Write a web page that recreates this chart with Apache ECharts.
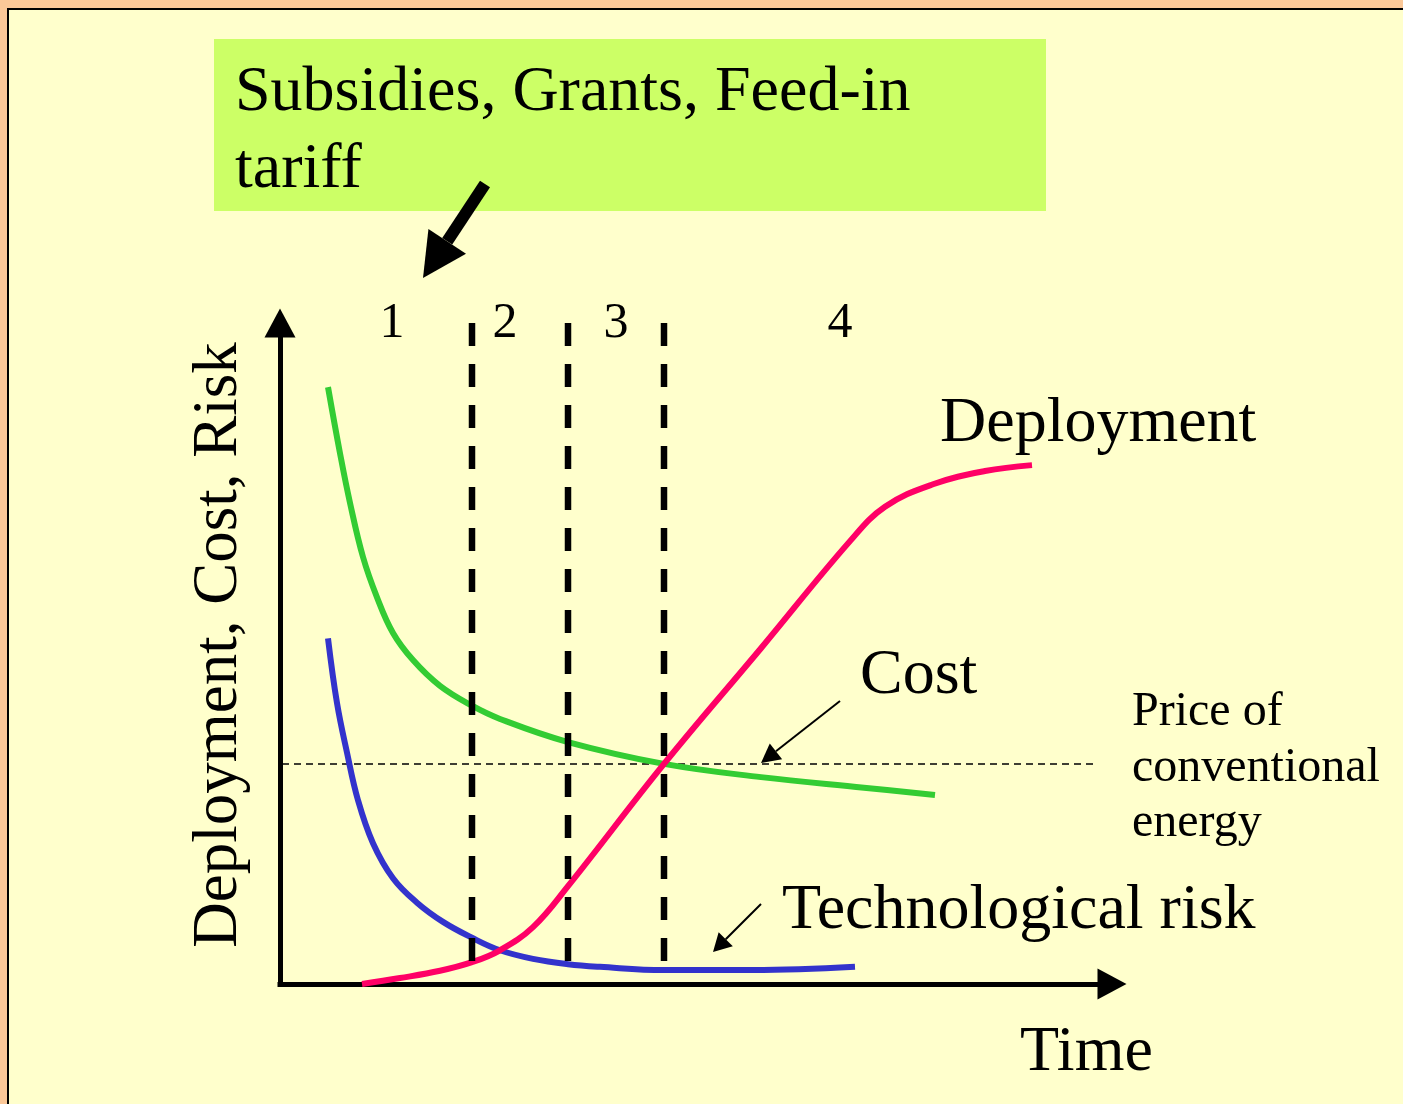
<!DOCTYPE html>
<html>
<head>
<meta charset="utf-8">
<title>Deployment, Cost, Risk</title>
<script src="https://cdn.jsdelivr.net/npm/echarts@6/dist/echarts.min.js"></script>
<style>
html, body { margin: 0; padding: 0; background: #FFFFCC; }
#main { width: 1403px; height: 1104px; }
</style>
</head>
<body>
<div id="main"></div>
<script>
"use strict";

// 数据：时间轴 0..104，纵轴 0..100（示意量）
var costTime = [6, 7.5, 8.75, 10.375, 12.125, 14.125, 16.625, 20, 24, 27.5, 36, 48, 60.125, 73, 81.875];
var costLevel = [90.3, 80.3, 72.8, 64.6, 58.5, 53.1, 49.0, 45.1, 42.1, 40.1, 36.6, 33.3, 31.3, 29.7, 28.6];

var riskTime = [6, 7.125, 8.375, 9.75, 11.625, 14.125, 17.125, 20.375, 24, 27.5, 31.625, 36, 40, 48, 59.125, 71.875];
var riskLevel = [52.3, 42.5, 35.0, 27.8, 21.3, 16.0, 12.3, 9.4, 7.0, 5.1, 3.8, 3.0, 2.6, 2.1, 2.1, 2.6];

var deployTime = [10.25, 15, 20, 24, 27.5, 31.625, 36, 48, 60.125, 71.25, 75.625, 81.625, 88.125, 94];
var deployLevel = [0, 0.9, 2.0, 3.3, 5.1, 8.6, 14.8, 33.3, 50.8, 67.0, 72.2, 75.6, 77.6, 78.5];

// 阶段分界线（时间）和上下端
var phaseBounds = [24, 36, 48];
var phaseTop = 100;
var phaseBottom = 2.7;
var phaseLabels = ['1', '2', '3', '4'];

// 常规能源价格线
var conventionalPrice = 33.3;
var priceFrom = 0.25;
var priceTo = 102.1;

var FONT = '"Liberation Serif", "Times New Roman", serif';

function zip(xs, ys) {
    return xs.map(function (x, i) { return [x, ys[i]]; });
}

//箭头：返回三角形的三个顶点
function arrowHead(x1, y1, x2, y2, len, wid) {
    var dx = x2 - x1, dy = y2 - y1;
    var d = Math.sqrt(dx * dx + dy * dy);
    var ux = dx / d, uy = dy / d;
    var bx = x2 - ux * len, by = y2 - uy * len;
    return {
        base: [bx, by],
        points: [[x2, y2], [bx - uy * wid / 2, by + ux * wid / 2], [bx + uy * wid / 2, by - ux * wid / 2]]
    };
}

function arrow(x1, y1, x2, y2, len, wid, lw) {
    var h = arrowHead(x1, y1, x2, y2, len, wid);
    return [
        { type: 'line', silent: true, z: 20,
          shape: { x1: x1, y1: y1, x2: h.base[0], y2: h.base[1] },
          style: { stroke: '#000', lineWidth: lw } },
        { type: 'polygon', silent: true, z: 20,
          shape: { points: h.points },
          style: { fill: '#000' } }
    ];
}

function label(text, x, baseline, size, align) {
    return {
        type: 'text', silent: true, z: 30,
        style: {
            text: text, x: x, y: baseline - size * 0.26,
            font: size + 'px ' + FONT, fill: '#000',
            align: align || 'left', verticalAlign: 'middle'
        }
    };
}

var series = [];

series.push({
    type: 'line', name: 'price', data: [[priceFrom, conventionalPrice], [priceTo, conventionalPrice]],
    symbol: 'none', silent: true, z: 2,
    lineStyle: { color: '#000', width: 1.5, type: [7, 5] }
});

series.push({
    type: 'line', name: 'Cost', data: zip(costTime, costLevel),
    symbol: 'none', smooth: 0.4, silent: true, z: 3,
    lineStyle: { color: '#33CC33', width: 6 }
});

series.push({
    type: 'line', name: 'Technological risk', data: zip(riskTime, riskLevel),
    symbol: 'none', smooth: 0.4, silent: true, z: 3,
    lineStyle: { color: '#3333CC', width: 6 }
});

series.push({
    type: 'line', name: 'Deployment', data: zip(deployTime, deployLevel),
    symbol: 'none', smooth: 0.4, silent: true, z: 4,
    lineStyle: { color: '#FF0066', width: 6 }
});

phaseBounds.forEach(function (b) {
    series.push({
        type: 'line', data: [[b, phaseTop], [b, phaseBottom]],
        symbol: 'none', silent: true, z: 5,
        lineStyle: { color: '#000', width: 6.5, type: [23, 18] }
    });
});

var graphic = [
    // 幻灯片边框
    { type: 'rect', silent: true, z: 1, shape: { x: 0, y: 0, width: 1403, height: 8 }, style: { fill: '#FBC898' } },
    { type: 'rect', silent: true, z: 1, shape: { x: 0, y: 0, width: 7, height: 1104 }, style: { fill: '#FBC898' } },
    { type: 'rect', silent: true, z: 1, shape: { x: 7, y: 8, width: 1396, height: 2 }, style: { fill: '#000' } },
    { type: 'rect', silent: true, z: 1, shape: { x: 7, y: 8, width: 2, height: 1096 }, style: { fill: '#000' } },
    // 绿色标签框
    { type: 'rect', silent: true, z: 10, shape: { x: 214, y: 39, width: 832, height: 172 }, style: { fill: '#CCFF66' } },
    label('Subsidies, Grants, Feed-in', 235, 110, 64),
    label('tariff', 235, 187, 64),
    label(phaseLabels[0], 392, 337, 50, 'center'),
    label(phaseLabels[1], 505, 337, 50, 'center'),
    label(phaseLabels[2], 616, 337, 50, 'center'),
    label(phaseLabels[3], 840, 337, 50, 'center'),
    label('Deployment', 940, 441, 64),
    label('Cost', 860, 693, 64),
    label('Price of', 1132, 725, 48),
    label('conventional', 1132, 781, 48),
    label('energy', 1132, 836, 48),
    label('Technological risk', 782, 928, 64),
    label('Time', 1020, 1070, 64),
    {
        type: 'text', silent: true, z: 30, x: 219, y: 645, rotation: Math.PI / 2,
        style: {
            text: 'Deployment, Cost, Risk', x: 0, y: 0,
            font: '63px ' + FONT, fill: '#000', align: 'center', verticalAlign: 'middle'
        }
    }
];
graphic = graphic.concat(arrow(485, 184, 423, 278, 44, 45, 12));
graphic = graphic.concat(arrow(840, 701, 761, 763, 19, 20, 2));
graphic = graphic.concat(arrow(761, 904, 713, 952, 18, 20, 2));

var axisLine = {
    show: true,
    symbol: ['none', 'triangle'],
    symbolSize: [31, 29],
    lineStyle: { color: '#000', width: 5, cap: 'square' }
};

var option = {
    backgroundColor: '#FFFFCC',
    animation: false,
    grid: { left: 280, top: 323, width: 832, height: 661, containLabel: false, outerBoundsMode: 'none' },
    xAxis: {
        type: 'value', min: 0, max: 104,
        axisLine: axisLine, axisTick: { show: false }, axisLabel: { show: false }, splitLine: { show: false }
    },
    yAxis: {
        type: 'value', min: 0, max: 100,
        axisLine: axisLine, axisTick: { show: false }, axisLabel: { show: false }, splitLine: { show: false }
    },
    series: series,
    graphic: graphic
};

var chart = echarts.init(document.getElementById('main'), null, { renderer: 'canvas' });
chart.setOption(option);
</script>
</body>
</html>
